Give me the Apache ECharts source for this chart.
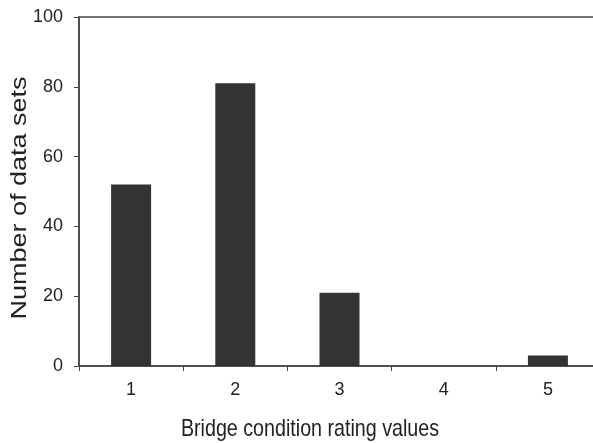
<!DOCTYPE html>
<html><head><meta charset="utf-8">
<script src="https://cdn.jsdelivr.net/npm/echarts@6/dist/echarts.min.js"></script>
<style>html,body{margin:0;padding:0;background:#fff;overflow:hidden;width:593px;height:443px}#c{width:600px;height:443px}</style>
</head><body><div id="c"></div>
<script>
const categories = ['1', '2', '3', '4', '5'];
const counts = [52, 81, 21, 0, 3];
const yTicks = [0, 20, 40, 60, 80, 100];
const xTitle = 'Bridge condition rating values';
const yTitle = 'Number of data sets';

const chart = echarts.init(document.getElementById('c'), null, {renderer: 'canvas'});
const regular = '"Liberation Sans", Arial, sans-serif';
chart.setOption({
  animation: false,
  grid: {left: 79, right: 0, top: 17, bottom: 77, containLabel: false,
         show: true, borderColor: '#444', borderWidth: 1.5, backgroundColor: 'transparent'},
  xAxis: {
    type: 'category', data: categories,
    axisLine: {lineStyle: {color: '#444', width: 1.5}},
    axisTick: {show: true, length: 5, inside: false, lineStyle: {color: '#444'}},
    axisLabel: {color: '#222', fontSize: 18, fontFamily: regular, margin: 15}
  },
  yAxis: {
    type: 'value', min: 0, max: 100, interval: 20,
    axisLine: {show: true, lineStyle: {color: '#444', width: 1.5}},
    axisTick: {show: true, length: 5, lineStyle: {color: '#444'}},
    splitLine: {show: false},
    axisLabel: {color: '#222', fontSize: 18, fontFamily: regular, margin: 16,
      formatter: v => yTicks.includes(v) ? String(v) : ''}
  },
  graphic: [
    {type: 'text', x: 310, y: 429, scaleX: 0.82, style: {text: xTitle, fill: '#222', font: '24px ' + regular, align: 'center', verticalAlign: 'middle'}},
    {type: 'text', x: 20, y: 198, rotation: Math.PI / 2, scaleY: 0.85, style: {text: yTitle, fill: '#222', font: '27px ' + regular, align: 'center', verticalAlign: 'middle'}}
  ],
  series: [{
    type: 'bar', data: counts, barWidth: 40,
    itemStyle: {color: '#333333'}
  }]
});
</script></body></html>
